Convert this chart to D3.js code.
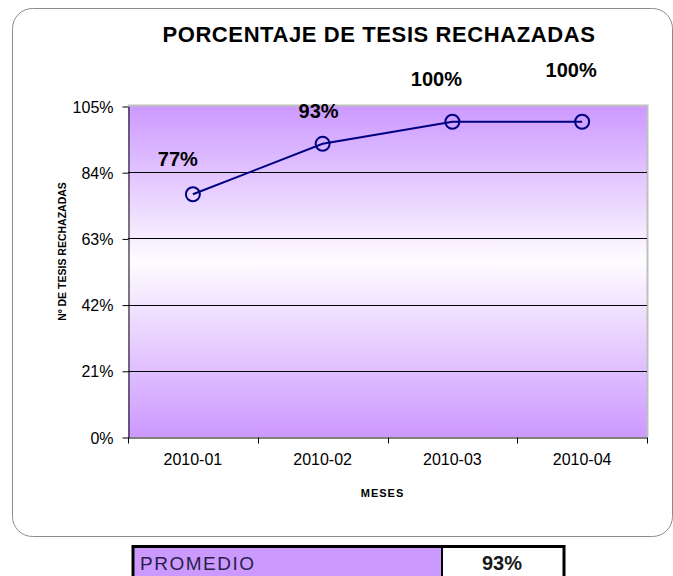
<!DOCTYPE html>
<html>
<head>
<meta charset="utf-8">
<script src="https://cdn.jsdelivr.net/npm/d3@7"></script>
<style>
  body { margin: 0; background: #fff; }
  svg text { font-family: "Liberation Sans", Arial, sans-serif; }
</style>
</head>
<body>
<svg width="673" height="576"></svg>
<script>
// chart data
var months = ["2010-01", "2010-02", "2010-03", "2010-04"];
var pctValues = [77, 93, 100, 100];
var yTicks = [0, 21, 42, 63, 84, 105];
var promedioLabel = "PROMEDIO";
var promedioValue = 93;

// data labels were dragged around by hand in the original, keep the nudges apart
var labelNudge = [[-15, -28], [-4, -26], [-16, -36], [-11, -45]];

var svg = d3.select("svg"),
    width = +svg.attr("width"),
    height = +svg.attr("height");

var plot = { left: 128, top: 106, right: 647, bottom: 437 };

// outer chart frame
svg.append("rect")
    .attr("x", 12.5).attr("y", 8.5)
    .attr("width", 660).attr("height", 528)
    .attr("rx", 20).attr("ry", 20)
    .attr("fill", "#fff")
    .attr("stroke", "#8c8c8c");

var defs = svg.append("defs");
var grad = defs.append("linearGradient")
    .attr("id", "bgGrad")
    .attr("x1", 0).attr("y1", 0).attr("x2", 0).attr("y2", 1);
grad.append("stop").attr("offset", "0%").attr("stop-color", "#cc99ff");
grad.append("stop").attr("offset", "47%").attr("stop-color", "#fefcff");
grad.append("stop").attr("offset", "100%").attr("stop-color", "#cc99ff");

var x = d3.scaleBand()
    .domain(months)
    .range([plot.left, plot.right]);

var y = d3.scaleLinear()
    .domain([0, 105])
    .range([plot.bottom, plot.top]);

// plot area
svg.append("rect")
    .attr("x", plot.left).attr("y", plot.top)
    .attr("width", plot.right - plot.left)
    .attr("height", plot.bottom - plot.top)
    .attr("fill", "url(#bgGrad)");

// light grey top/right border
svg.append("path")
    .attr("d", "M" + plot.left + "," + (plot.top - 0.5) + "H" + (plot.right + 0.5) + "V" + plot.bottom)
    .attr("fill", "none")
    .attr("stroke", "#bfbfbf")
    .attr("stroke-width", 2);

// gridlines
svg.append("g")
    .selectAll("line")
    .data(yTicks.filter(d => d > 0 && d < 105))
    .enter().append("line")
        .attr("x1", plot.left).attr("x2", plot.right)
        .attr("y1", d => Math.round(y(d)) + 0.5)
        .attr("y2", d => Math.round(y(d)) + 0.5)
        .attr("stroke", "#000");

// y axis
var yAxis = svg.append("g")
    .attr("transform", "translate(" + (plot.left + 0.5) + ",0.5)")
    .call(d3.axisLeft(y).tickValues(yTicks).tickFormat(d => d + "%").tickSize(6).tickSizeOuter(0));
yAxis.select(".domain").attr("stroke", "#000");
yAxis.selectAll("text")
    .attr("x", -15)
    .attr("dy", "0.35em")
    .style("font-size", "16px")
    .style("fill", "#000");

// x axis (labels at category centres, ticks at category boundaries)
var xAxis = svg.append("g")
    .attr("transform", "translate(0," + (plot.bottom + 0.5) + ")")
    .call(d3.axisBottom(x).tickSize(0).tickSizeOuter(0));
xAxis.select(".domain").attr("stroke", "#000");
xAxis.selectAll("text")
    .attr("y", 27)
    .attr("dy", 0)
    .style("font-size", "16px")
    .style("fill", "#000");

var bounds = months.map(m => x(m)).concat([x(months[months.length - 1]) + x.bandwidth()]);
xAxis.selectAll(".bound")
    .data(bounds)
    .enter().append("line")
        .attr("class", "bound")
        .attr("x1", d => Math.round(d) + 0.5).attr("x2", d => Math.round(d) + 0.5)
        .attr("y1", 0).attr("y2", 6)
        .attr("stroke", "#000");

// series line + markers
var cx = i => x(months[i]) + x.bandwidth() / 2;

var line = d3.line()
    .x((d, i) => cx(i))
    .y(d => y(d));

svg.append("path")
    .datum(pctValues)
    .attr("d", line)
    .attr("fill", "none")
    .attr("stroke", "#000080")
    .attr("stroke-width", 2);

svg.append("g")
    .selectAll("circle")
    .data(pctValues)
    .enter().append("circle")
        .attr("cx", (d, i) => cx(i))
        .attr("cy", d => y(d))
        .attr("r", 7)
        .attr("fill", "none")
        .attr("stroke", "#000080")
        .attr("stroke-width", 2);

// data labels
svg.append("g")
    .selectAll("text")
    .data(pctValues)
    .enter().append("text")
        .attr("x", (d, i) => cx(i) + labelNudge[i][0])
        .attr("y", (d, i) => y(d) + labelNudge[i][1])
        .attr("text-anchor", "middle")
        .style("font-size", "20px")
        .style("font-weight", "bold")
        .text(d => d + "%");

// titles
svg.append("text")
    .attr("x", 379).attr("y", 42)
    .attr("text-anchor", "middle")
    .style("font-size", "22px")
    .style("font-weight", "bold")
    .style("letter-spacing", "0.6px")
    .text("PORCENTAJE DE TESIS RECHAZADAS");

svg.append("text")
    .attr("transform", "translate(66," + ((plot.top + plot.bottom) / 2 - 20) + ") rotate(-90)")
    .attr("text-anchor", "middle")
    .style("font-size", "10.5px")
    .style("font-weight", "bold")
    .text("Nº DE TESIS RECHAZADAS");

svg.append("text")
    .attr("x", (plot.left + plot.right) / 2 - 5).attr("y", 497)
    .attr("text-anchor", "middle")
    .style("font-size", "11px")
    .style("font-weight", "bold")
    .style("letter-spacing", "1px")
    .text("MESES");

// average table under the chart
var table = svg.append("g");
table.append("rect")
    .attr("x", 133).attr("y", 547)
    .attr("width", 309).attr("height", 40)
    .attr("fill", "#cc99ff");
table.append("rect")
    .attr("x", 442).attr("y", 547)
    .attr("width", 122).attr("height", 40)
    .attr("fill", "#fff");
table.append("rect")
    .attr("x", 133).attr("y", 546.5)
    .attr("width", 431).attr("height", 40)
    .attr("fill", "none")
    .attr("stroke", "#000")
    .attr("stroke-width", 3);
table.append("line")
    .attr("x1", 442).attr("x2", 442)
    .attr("y1", 547).attr("y2", 590)
    .attr("stroke", "#000")
    .attr("stroke-width", 2);
table.append("text")
    .attr("x", 140).attr("y", 570)
    .style("font-size", "19px")
    .style("letter-spacing", "1.5px")
    .style("fill", "#2a1f4a")
    .text(promedioLabel);
table.append("text")
    .attr("x", 502).attr("y", 570)
    .attr("text-anchor", "middle")
    .style("font-size", "20px")
    .style("font-weight", "bold")
    .style("fill", "#1a1a1a")
    .text(promedioValue + "%");
</script>
</body>
</html>
